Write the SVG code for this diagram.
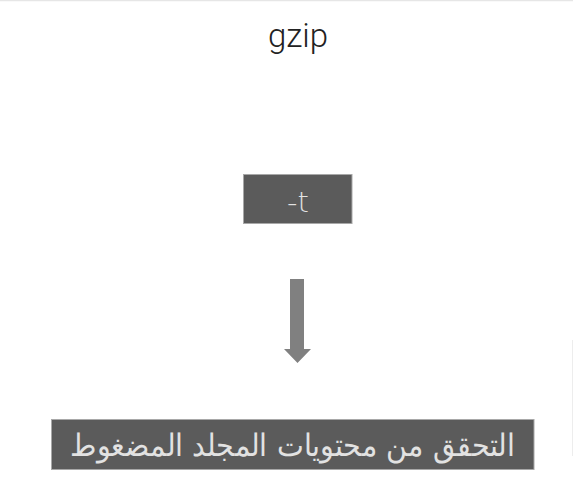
<svg xmlns="http://www.w3.org/2000/svg" width="573" height="487" viewBox="0 0 573 487">
<style>
.box{fill:#5b5b5b;stroke:#a8a8a8;stroke-width:1}
.lbl{fill:#e2e2e2;font-family:"DejaVu Sans",sans-serif;font-weight:300;text-anchor:middle}
.arrow{fill:#808080}
</style>
<rect width="573" height="487" fill="#ffffff"/>
<line x1="0" y1="0.5" x2="573" y2="0.5" stroke="#e6e6e6" stroke-width="1.5"/>
<line x1="572.5" y1="340" x2="572.5" y2="456" stroke="#ededed" stroke-width="1"/>
<g id="title">
<text x="298" y="47" font-family="Roboto,sans-serif" font-weight="300" font-size="33" fill="#222222" text-anchor="middle">gzip</text>
</g>
<g id="node-t">
<rect class="box" x="243.5" y="174.5" width="108.5" height="49"/>
<text class="lbl" x="298" y="212" font-size="29" font-family="Roboto,sans-serif" font-weight="200">-t</text>
</g>
<g id="connectors">
<polygon class="arrow" points="290,279 304,279 304,349 311,349 297.5,363 284,349 290,349"/>
</g>
<g id="node-result">
<rect class="box" x="51.5" y="419.5" width="482.5" height="50"/>
<text class="lbl" x="292.5" y="456" font-size="31" textLength="445" lengthAdjust="spacingAndGlyphs" direction="rtl">التحقق من محتويات المجلد المضغوط</text>
</g>
</svg>
